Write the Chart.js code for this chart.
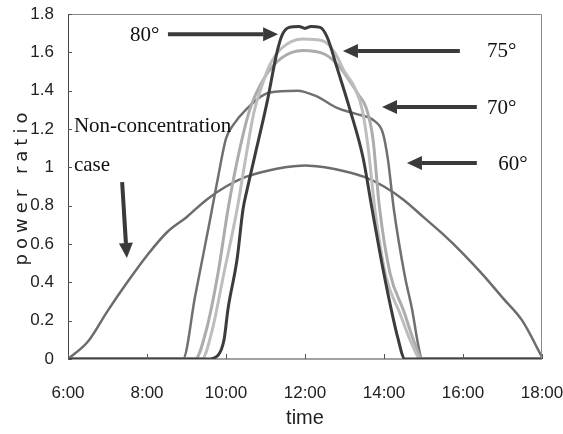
<!DOCTYPE html>
<html>
<head>
<meta charset="utf-8">
<script src="https://cdn.jsdelivr.net/npm/chart.js@4.4.1/dist/chart.umd.min.js"></script>
<style>
  html, body { margin: 0; padding: 0; background: #fff; }
  #wrap { width: 563px; height: 434px; }
</style>
</head>
<body>
<div id="wrap"><canvas id="powerChart" width="563" height="434"></canvas></div>
<script>
// time of day in hours, power ratio
const timeNonConc = [6, 6.5, 7, 7.5, 8, 8.5, 9, 9.5, 10, 10.5, 11, 11.5, 12, 12.5, 13, 13.5, 14, 14.5, 15, 15.5, 16, 16.5, 17, 17.5, 18];
const ratioNonConc = [0, 0.09, 0.25, 0.40, 0.54, 0.66, 0.74, 0.83, 0.90, 0.95, 0.98, 1.0, 1.01, 1.0, 0.98, 0.95, 0.90, 0.83, 0.74, 0.65, 0.55, 0.44, 0.32, 0.20, 0.01];

const time60 = [6, 8.91, 9.22, 9.59, 9.8, 10.0, 10.18, 10.5, 11.11, 11.8, 12.3, 12.81, 13.27, 13.77, 13.97, 14.1, 14.25, 14.53, 14.71, 14.86, 14.96, 18];
const ratio60 = [0, 0, 0.33, 0.72, 0.95, 1.15, 1.22, 1.30, 1.39, 1.40, 1.37, 1.31, 1.28, 1.24, 1.18, 1.04, 0.78, 0.43, 0.26, 0.08, 0, 0];

const time70 = [6, 9.22, 9.5, 9.8, 10.05, 10.3, 10.6, 10.95, 11.4, 11.95, 12.5, 12.85, 13.1, 13.35, 13.55, 13.72, 13.88, 14.15, 14.5, 14.78, 14.97, 18];
const ratio70 = [0, 0, 0.15, 0.45, 0.78, 1.05, 1.30, 1.46, 1.57, 1.61, 1.59, 1.53, 1.46, 1.38, 1.31, 1.15, 0.80, 0.45, 0.25, 0.08, 0, 0];

const time75 = [6, 9.39, 9.65, 9.95, 10.28, 10.5, 10.7, 10.9, 11.1, 11.4, 11.95, 12.45, 12.75, 13.0, 13.25, 13.45, 13.6, 13.77, 14.05, 14.4, 14.7, 14.93, 18];
const ratio75 = [0, 0, 0.15, 0.45, 0.78, 1.05, 1.28, 1.42, 1.53, 1.62, 1.67, 1.66, 1.60, 1.50, 1.42, 1.30, 1.10, 0.78, 0.43, 0.24, 0.08, 0, 0];

const time80 = [6, 9.54, 9.8, 9.95, 10.05, 10.28, 10.43, 10.53, 10.73, 11.04, 11.29, 11.42, 11.6, 11.85, 12.0, 12.15, 12.38, 12.56, 12.81, 13.14, 13.47, 13.7, 13.9, 14.1, 14.35, 14.53, 18];
const ratio80 = [0, 0, 0.02, 0.10, 0.26, 0.52, 0.78, 0.88, 1.06, 1.34, 1.60, 1.69, 1.73, 1.735, 1.725, 1.735, 1.73, 1.68, 1.52, 1.30, 1.05, 0.78, 0.55, 0.34, 0.11, 0, 0];

const xTicks = [6, 8, 10, 12, 14, 16, 18];
const yTicks = [0, 0.2, 0.4, 0.6, 0.8, 1, 1.2, 1.4, 1.6, 1.8];

// labels and arrows, placed in data units (hours, ratio)
const labels = [
  { text: '80°', x: 7.57, y: 1.69 },
  { text: '75°', x: 16.61, y: 1.607 },
  { text: '70°', x: 16.61, y: 1.309 },
  { text: '60°', x: 16.89, y: 1.017 },
  { text: 'Non-concentration', x: 6.15, y: 1.215 },
  { text: 'case', x: 6.15, y: 1.012 }
];
const arrows = [
  { from: [8.53, 1.695], to: [11.32, 1.695] },
  { from: [15.92, 1.607], to: [12.96, 1.607] },
  { from: [16.35, 1.315], to: [13.95, 1.315] },
  { from: [16.35, 1.022], to: [14.58, 1.022] },
  { from: [7.37, 0.923], to: [7.49, 0.527] }
];

const toPoints = (xs, ys) => xs.map((x, i) => ({ x: x, y: ys[i] }));

const line = (label, xs, ys, color, width) => ({
  label: label,
  data: toPoints(xs, ys),
  showLine: true,
  borderColor: color,
  borderWidth: width,
  pointRadius: 0,
  cubicInterpolationMode: 'monotone',
  fill: false
});

function drawArrow(ctx, x1, y1, x2, y2) {
  const ang = Math.atan2(y2 - y1, x2 - x1);
  const head = 15, half = 7;
  const bx = x2 - head * Math.cos(ang), by = y2 - head * Math.sin(ang);
  ctx.beginPath();
  ctx.moveTo(x1, y1);
  ctx.lineTo(bx, by);
  ctx.lineWidth = 4;
  ctx.strokeStyle = '#3a3a3a';
  ctx.stroke();
  ctx.beginPath();
  ctx.moveTo(x2, y2);
  ctx.lineTo(bx + half * Math.sin(ang), by - half * Math.cos(ang));
  ctx.lineTo(bx - half * Math.sin(ang), by + half * Math.cos(ang));
  ctx.closePath();
  ctx.fillStyle = '#3a3a3a';
  ctx.fill();
}

const decorations = {
  id: 'decorations',
  afterDraw(chart) {
    const ctx = chart.ctx;
    const a = chart.chartArea;
    const xs = chart.scales.x, ys = chart.scales.y;
    ctx.save();

    // frame
    ctx.lineWidth = 1;
    ctx.strokeStyle = '#8a8a8a';
    ctx.beginPath();
    ctx.moveTo(a.left, a.top + 0.5);
    ctx.lineTo(a.right - 0.5, a.top + 0.5);
    ctx.lineTo(a.right - 0.5, a.bottom);
    ctx.stroke();
    ctx.strokeStyle = '#444';
    ctx.beginPath();
    ctx.moveTo(a.left + 0.5, a.top);
    ctx.lineTo(a.left + 0.5, a.bottom);
    ctx.lineTo(a.right, a.bottom);
    ctx.stroke();

    // small inside ticks
    ctx.strokeStyle = '#555';
    xTicks.forEach(v => {
      const px = Math.round(xs.getPixelForValue(v)) + 0.5;
      ctx.beginPath();
      ctx.moveTo(px, a.bottom);
      ctx.lineTo(px, a.bottom - 5);
      ctx.stroke();
    });
    yTicks.forEach(v => {
      const py = Math.round(ys.getPixelForValue(v)) + 0.5;
      ctx.beginPath();
      ctx.moveTo(a.left, py);
      ctx.lineTo(a.left + 4, py);
      ctx.stroke();
    });

    // y title with loose spacing
    ctx.fillStyle = '#222';
    ctx.font = '18px "DejaVu Sans", sans-serif';
    ctx.letterSpacing = '5px';
    ctx.textAlign = 'center';
    ctx.textBaseline = 'middle';
    ctx.translate(22, (a.top + a.bottom) / 2);
    ctx.rotate(-Math.PI / 2);
    ctx.fillText('power ratio', 0, 0);
    ctx.setTransform(1, 0, 0, 1, 0, 0);
    ctx.letterSpacing = '0px';

    // annotations
    ctx.font = '21px "Liberation Serif", "Times New Roman", serif';
    ctx.textAlign = 'left';
    ctx.textBaseline = 'middle';
    ctx.fillStyle = '#111';
    labels.forEach(l => {
      ctx.fillText(l.text, xs.getPixelForValue(l.x), ys.getPixelForValue(l.y));
    });
    arrows.forEach(ar => {
      drawArrow(ctx,
        xs.getPixelForValue(ar.from[0]), ys.getPixelForValue(ar.from[1]),
        xs.getPixelForValue(ar.to[0]), ys.getPixelForValue(ar.to[1]));
    });
    ctx.restore();
  }
};

const tickFont = { family: '"Liberation Sans", Arial, sans-serif', size: 17 };

new Chart(document.getElementById('powerChart'), {
  type: 'scatter',
  data: {
    datasets: [
      line('80°', time80, ratio80, '#3c3c3c', 3),
      line('75°', time75, ratio75, '#bdbdbd', 3),
      line('70°', time70, ratio70, '#acacac', 3),
      line('60°', time60, ratio60, '#707070', 2.5),
      line('Non-concentration case', timeNonConc, ratioNonConc, '#6c6c6c', 2.5)
    ]
  },
  options: {
    responsive: false,
    animation: false,
    layout: { padding: { top: 14, right: 21, left: 0, bottom: 0 } },
    plugins: {
      legend: { display: false },
      tooltip: { enabled: false }
    },
    scales: {
      x: {
        type: 'linear',
        min: 6,
        max: 18,
        afterBuildTicks: s => { s.ticks = xTicks.map(v => ({ value: v })); },
        afterFit: s => { s.height = 75; s.paddingLeft = 0; s.paddingRight = 0; },
        grid: { display: false, drawTicks: false },
        border: { display: false },
        ticks: {
          padding: 24,
          color: '#222',
          font: tickFont,
          maxRotation: 0,
          callback: v => v + ':00'
        },
        title: {
          display: true,
          text: 'time',
          color: '#222',
          font: { family: '"Liberation Sans", Arial, sans-serif', size: 20 },
          padding: { top: 2 }
        }
      },
      y: {
        min: 0,
        max: 1.8,
        afterBuildTicks: s => { s.ticks = yTicks.map(v => ({ value: v })); },
        afterFit: s => { s.width = 68; s.paddingTop = 0; s.paddingBottom = 0; },
        grid: { display: false, drawTicks: false },
        border: { display: false },
        ticks: {
          padding: 14,
          color: '#222',
          font: tickFont,
          callback: v => String(+v.toFixed(1))
        }
      }
    }
  },
  plugins: [decorations]
});
</script>
</body>
</html>
